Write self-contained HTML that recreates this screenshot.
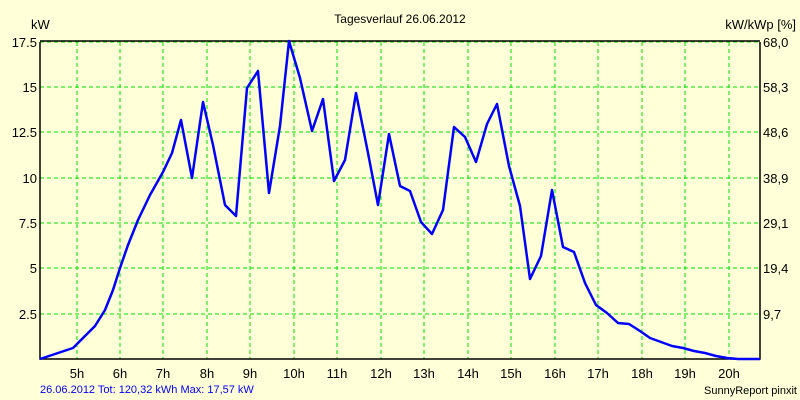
<!DOCTYPE html>
<html><head><style>body{margin:0}svg{display:block}</style></head><body>
<svg width="800" height="400" xmlns="http://www.w3.org/2000/svg" font-family="Liberation Sans, sans-serif" font-size="13">
<rect width="800" height="400" fill="#ffffd8"/>
<g stroke="#00e000" stroke-dasharray="4,3" stroke-width="1">
<path d="M40 42H760M40 87H760M40 132H760M40 178H760M40 223H760M40 268H760M40 314H760"/>
<path d="M77 42V359M120 42V359M163 42V359M207 42V359M250 42V359M294 42V359M337 42V359M381 42V359M424 42V359M468 42V359M511 42V359M555 42V359M598 42V359M642 42V359M685 42V359M729 42V359"/>
</g>
<path d="M40 42V359H760V42M40 41H760" fill="none" stroke="#000" stroke-width="1.5"/>
<polyline fill="none" stroke="#0000ff" stroke-width="2.5" stroke-linejoin="round" points="40,359 73,348 95,326 105,310 113,290 120,268 128,245 138,220 150,195 163,172 172,153 181,120 192,178 203,102 213,145 225,205 236,216 247,88 258,71 269,193 280,126 289,41 300,78 312,131 323,99 334,181 345,160 356,93 368,153 378,205 389,134 400,186 410,191 421,222 432,234 443,210 454,127 465,137 476,162 487,124 497,104 509,166 520,206 530,279 541,256 552,190 563,247 574,252 585,283 596,305 607,313 618,323 629,324 640,331 650,338 661,342 672,346 683,348 694,351 705,353 716,356 727,358 738,359 760,359"/>
<g text-anchor="end">
<text x="37" y="47">17.5</text><text x="37" y="92">15</text><text x="37" y="137">12.5</text><text x="37" y="183">10</text><text x="37" y="228">7.5</text><text x="37" y="273">5</text><text x="37" y="319">2.5</text>
</g>
<text x="31" y="29">kW</text>
<g>
<text x="763" y="47">68,0</text><text x="763" y="92">58,3</text><text x="763" y="137">48,6</text><text x="763" y="183">38,9</text><text x="763" y="228">29,1</text><text x="763" y="273">19,4</text><text x="763" y="319">9,7</text>
</g>
<text x="796" y="29" text-anchor="end">kW/kWp [%]</text>
<text x="400" y="23" text-anchor="middle" font-size="12">Tagesverlauf 26.06.2012</text>
<g text-anchor="middle">
<text x="77" y="378">5h</text><text x="120" y="378">6h</text><text x="163" y="378">7h</text><text x="207" y="378">8h</text><text x="250" y="378">9h</text><text x="294" y="378">10h</text><text x="337" y="378">11h</text><text x="381" y="378">12h</text><text x="424" y="378">13h</text><text x="468" y="378">14h</text><text x="511" y="378">15h</text><text x="555" y="378">16h</text><text x="598" y="378">17h</text><text x="642" y="378">18h</text><text x="685" y="378">19h</text><text x="729" y="378">20h</text>
</g>
<text x="40" y="393" font-size="11" fill="#0000ff">26.06.2012 Tot: 120,32 kWh Max: 17,57 kW</text>
<text x="797" y="394" font-size="11" text-anchor="end">SunnyReport pinxit</text>
</svg>
</body></html>
